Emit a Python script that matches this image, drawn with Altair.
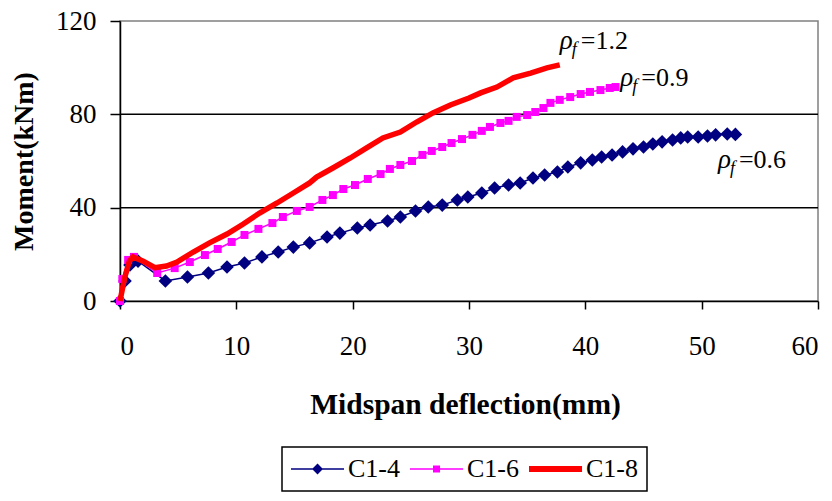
import altair as alt
import pandas as pd

# ---------------- data ----------------
c14_x = [0, 0.43, 0.86, 1.55, 3.9, 5.8, 7.6, 9.2, 10.7, 12.2, 13.6, 14.9, 16.3, 17.8, 18.9,
         20.4, 21.5, 23.0, 24.1, 25.4, 26.5, 27.7, 29.0, 29.9, 31.1, 32.2, 33.4, 34.4, 35.5,
         36.5, 37.6, 38.5, 39.6, 40.6, 41.4, 42.3, 43.2, 44.1, 45.0, 45.8, 46.6, 47.5, 48.2,
         48.8, 49.7, 50.5, 51.2, 52.2, 52.9]
c14_y = [0, 8.6, 15.4, 17.1, 8.6, 10.3, 12.0, 14.6, 16.3, 18.9, 21.0, 23.1, 24.9, 27.4, 29.1,
         31.3, 32.6, 34.3, 36.0, 38.6, 40.3, 41.1, 43.3, 44.6, 46.3, 48.4, 49.7, 50.6, 52.7,
         54.0, 55.3, 57.4, 59.2, 60.4, 61.7, 62.6, 63.9, 65.2, 66.0, 67.3, 68.2, 69.0, 69.9,
         70.3, 70.3, 70.7, 71.2, 71.6, 71.4]

c16_x = [0, 0.2, 0.7, 1.2, 3.2, 4.7, 6.0, 7.3, 8.4, 9.6, 10.7, 11.9, 13.1, 14.0, 15.2, 16.3,
         17.4, 18.3, 19.2, 20.2, 21.3, 22.4, 23.2, 24.1, 25.1, 26.0, 26.8, 27.7, 28.5, 29.4,
         30.3, 31.1, 31.8, 32.7, 33.4, 34.1, 35.0, 35.7, 36.4, 37.0, 37.8, 38.7, 39.6, 40.4,
         41.3, 42.1, 42.6]
c16_y = [0, 9.4, 17.6, 18.9, 12.0, 14.1, 16.7, 19.7, 22.3, 25.3, 28.3, 30.9, 33.4, 36.0, 38.6,
         40.3, 43.3, 45.4, 48.0, 49.7, 52.3, 54.4, 56.6, 58.3, 60.0, 62.6, 64.3, 66.0, 67.7,
         69.4, 71.2, 72.9, 74.6, 76.3, 77.2, 78.9, 79.7, 81.0, 82.7, 84.9, 86.2, 87.4, 88.7,
         89.6, 90.4, 91.3, 91.7]

c18_x = [0, 0.4, 0.8, 1.1, 2.0, 3.0, 4.0, 4.9, 6.3, 7.7, 9.2, 10.6, 12.0, 13.5, 14.9, 16.3,
         16.9, 18.3, 19.8, 21.2, 22.6, 24.1, 25.5, 26.9, 28.4, 30.0, 31.0, 32.4, 33.8, 35.3,
         36.7, 37.8]
c18_y = [0, 10.0, 17.0, 18.9, 17.0, 14.3, 15.0, 16.7, 21.0, 24.9, 28.7, 33.0, 37.7, 42.0,
         46.3, 50.6, 53.1, 57.0, 61.3, 65.6, 69.9, 72.4, 76.7, 80.6, 84.0, 87.0, 89.2, 91.7,
         95.6, 97.7, 99.9, 101.2]

series_names = ["C1-4", "C1-6", "C1-8"]
series_colors = ["#000080", "#FF00FF", "#FF0000"]

label_x = [37.8, 43.0, 51.4]
label_y = [108.0, 92.1, 57.0]
label_val = ["=1.2", "=0.9", "=0.6"]

x_ticks = [0, 10, 20, 30, 40, 50, 60]
y_ticks = [0, 40, 80, 120]
grid_y = [40, 80]

# ---------------- tables ----------------
def table(xs, ys):
    return pd.DataFrame({"x": xs, "y": ys, "i": list(range(len(xs)))})

d14 = table(c14_x, c14_y)
d16 = table(c16_x, c16_y)
d18 = table(c18_x, c18_y)
labels = pd.DataFrame({"x": label_x, "y": label_y, "t": label_val})
legend_df = pd.DataFrame({"s": series_names, "x": [-10] * 3, "y": [-10] * 3})
grid_df = pd.DataFrame({"y": grid_y})

SERIF = "Liberation Serif, Times New Roman, Times, Noto Serif, DejaVu Serif, serif"

xs = alt.Scale(domain=[0, 60], nice=False, zero=False)
ys = alt.Scale(domain=[0, 120], nice=False, zero=False)

X = alt.X("x:Q", scale=xs, title="Midspan deflection(mm)",
          axis=alt.Axis(values=x_ticks, grid=False, tickSize=8, labelPadding=24,
                        labelFontSize=27, labelFont=SERIF, labelColor="black",
                        titleFont=SERIF, titleFontSize=29.5, titleFontWeight="bold",
                        titleColor="black", titleX=345, titleY=103, titleBaseline="middle",
                        domainColor="black", domainWidth=1.5, tickColor="black",
                        tickWidth=1.5))
Y = alt.Y("y:Q", scale=ys, title="Moment(kNm)",
          axis=alt.Axis(values=y_ticks, grid=False,
                        tickSize=10, labelPadding=14, labelFontSize=27, labelFont=SERIF,
                        labelColor="black", titleFont=SERIF, titleFontSize=28,
                        titleFontWeight="bold", titleColor="black", titleX=-96, titleY=140,
                        titleBaseline="middle", titleAngle=270,
                        domainColor="black", domainWidth=1.5, tickColor="black",
                        tickWidth=1.5))

grid = alt.Chart(grid_df).mark_rule(color="black", strokeWidth=1.5).encode(y=Y)

def line(df, color, width):
    return alt.Chart(df).mark_line(color=color, strokeWidth=width).encode(
        x=X, y=Y, order="i:Q")

def pts(df, color, shape, size):
    return alt.Chart(df).mark_point(shape=shape, filled=True, size=size, color=color,
                                    opacity=1, strokeWidth=0).encode(x=X, y=Y)

l14 = line(d14, series_colors[0], 1.5)
p14 = pts(d14, series_colors[0], "diamond", 185)
l16 = line(d16, series_colors[1], 1.5)
p16 = pts(d16, series_colors[1], "square", 64)
l18 = line(d18, series_colors[2], 5.5)

# legend glyphs: nominal radius 13 px (size 676); path spans -1..3.08 units (~53 px)
legend_shapes = [
    "M-1,-0.06H3.08V0.06H-1Z M1.04,-0.42L1.46,0L1.04,0.42L0.62,0Z",
    "M-1,-0.06H3.08V0.06H-1Z M0.77,-0.27H1.31V0.27H0.77Z",
    "M-1,-0.23H3.08V0.23H-1Z",
]

leg = alt.Chart(legend_df).mark_point(filled=True, clip=True, size=676, opacity=1,
                                      strokeWidth=0).encode(
    x=X, y=Y,
    color=alt.Color("s:N", title=None,
                    scale=alt.Scale(domain=series_names, range=series_colors),
                    legend=alt.Legend(orient="none", legendX=162, legendY=426,
                                      direction="horizontal", labelFont=SERIF,
                                      labelFontSize=26, labelColor="black",
                                      strokeColor="black", padding=9,
                                      symbolSize=676, labelOffset=31,
                                      columnPadding=10, symbolOpacity=1,
                                      symbolStrokeWidth=0)),
    shape=alt.Shape("s:N", title=None,
                    scale=alt.Scale(domain=series_names, range=legend_shapes)),
)

rho = alt.Chart(labels).mark_text(text="ρ", font=SERIF, fontSize=27, fontStyle="italic",
                                  align="left", baseline="alphabetic",
                                  color="black").encode(x=X, y=Y)
sub = alt.Chart(labels).mark_text(text="f", font=SERIF, fontSize=18, fontStyle="italic",
                                  align="left", baseline="alphabetic", dx=12, dy=6,
                                  color="black").encode(x=X, y=Y)
val = alt.Chart(labels).mark_text(font=SERIF, fontSize=26, align="left",
                                  baseline="alphabetic", dx=21,
                                  color="black").encode(x=X, y=Y, text="t:N")

chart = alt.layer(grid, l14, p14, l16, p16, l18, leg, rho, sub, val).properties(
    width=698, height=280,
    autosize=alt.AutoSizeParams(type="none"),
    padding={"left": 120, "top": 21, "right": 14, "bottom": 200},
    background="white",
).configure_view(stroke="#808080", strokeWidth=1.5).configure_legend(strokeWidth=1.5)

chart.save("out.html", embed_options={"renderer": "svg", "actions": False})
